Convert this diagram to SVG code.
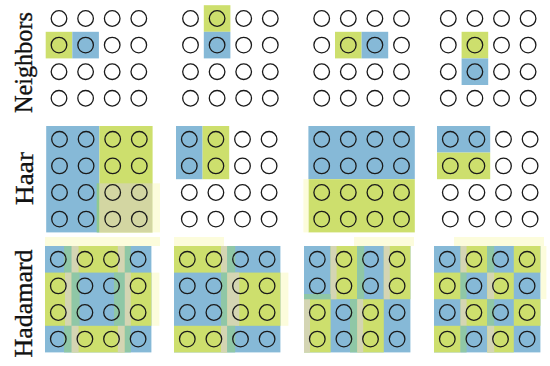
<svg xmlns="http://www.w3.org/2000/svg" xmlns:xlink="http://www.w3.org/1999/xlink" width="550" height="366" viewBox="0 0 550 366">
<style>
.b{fill:#86b9d7}
.g{fill:#cddf6d}
.t{fill:#8fc7a6}
.e{fill:#d4d5b3}
.p{fill:#fcfcdc}
.c{fill:none;stroke:#1a1a1a;stroke-width:1.3}
.lbl{font-family:"Liberation Serif","DejaVu Serif",serif;font-size:26px;fill:#111;stroke:#111;stroke-width:0.35}
</style>
<defs>
<g id="grid">
<circle class="c" cx="13.3" cy="13.3" r="7.8"/><circle class="c" cx="39.9" cy="13.3" r="7.8"/><circle class="c" cx="66.5" cy="13.3" r="7.8"/><circle class="c" cx="93.1" cy="13.3" r="7.8"/>
<circle class="c" cx="13.3" cy="39.9" r="7.8"/><circle class="c" cx="39.9" cy="39.9" r="7.8"/><circle class="c" cx="66.5" cy="39.9" r="7.8"/><circle class="c" cx="93.1" cy="39.9" r="7.8"/>
<circle class="c" cx="13.3" cy="66.5" r="7.8"/><circle class="c" cx="39.9" cy="66.5" r="7.8"/><circle class="c" cx="66.5" cy="66.5" r="7.8"/><circle class="c" cx="93.1" cy="66.5" r="7.8"/>
<circle class="c" cx="13.3" cy="93.1" r="7.8"/><circle class="c" cx="39.9" cy="93.1" r="7.8"/><circle class="c" cx="66.5" cy="93.1" r="7.8"/><circle class="c" cx="93.1" cy="93.1" r="7.8"/>
</g>
</defs>
<rect width="550" height="366" fill="#fff"/>
<g id="labels">
<text class="lbl" transform="translate(32,62.5) rotate(-90)" text-anchor="middle" textLength="101" lengthAdjust="spacingAndGlyphs">Neighbors</text>
<text class="lbl" transform="translate(33,178.5) rotate(-90)" text-anchor="middle" textLength="53" lengthAdjust="spacingAndGlyphs">Haar</text>
<text class="lbl" transform="translate(32,303.5) rotate(-90)" text-anchor="middle" textLength="108" lengthAdjust="spacingAndGlyphs">Hadamard</text>
</g>
<!-- Neighbors -->
<g id="neighbors-1" transform="translate(45.7,5.2)">
<rect class="g" x="0" y="26.6" width="26.6" height="26.6"/><rect class="b" x="26.6" y="26.6" width="26.6" height="26.6"/>
<use xlink:href="#grid"/>
</g>
<g id="neighbors-2" transform="translate(177.2,5.2)">
<rect class="g" x="26.6" y="0" width="26.6" height="26.6"/><rect class="b" x="26.6" y="26.6" width="26.6" height="26.6"/>
<use xlink:href="#grid"/>
</g>
<g id="neighbors-3" transform="translate(308.4,5.2)">
<rect class="g" x="26.6" y="26.6" width="26.6" height="26.6"/><rect class="b" x="53.2" y="26.6" width="26.6" height="26.6"/>
<use xlink:href="#grid"/>
</g>
<g id="neighbors-4" transform="translate(435,5.2)">
<rect class="g" x="26.6" y="26.6" width="26.6" height="26.6"/><rect class="b" x="26.6" y="53.2" width="26.6" height="26.6"/>
<use xlink:href="#grid"/>
</g>
<!-- Haar -->
<g id="haar-1" transform="translate(46.2,126)">
<rect class="b" x="0" y="0" width="53.2" height="106.4"/><rect class="g" x="53.2" y="0" width="53.2" height="106.4"/>
<rect x="50.5" y="57.3" width="2.7" height="49.1" fill="#8fc98f"/>
<rect x="53.2" y="57.3" width="53.2" height="49.1" fill="#d3d6a2"/>
<rect x="106.4" y="57.3" width="7.4" height="49.1" class="p"/>
<use xlink:href="#grid"/>
</g>
<g id="haar-2" transform="translate(176,126)">
<rect class="b" x="0" y="0" width="26.6" height="53.2"/><rect class="g" x="26.6" y="0" width="26.6" height="53.2"/>
<use xlink:href="#grid"/>
</g>
<g id="haar-3" transform="translate(308.4,126)">
<rect class="b" x="0" y="0" width="106.4" height="53.2"/><rect class="g" x="0" y="53.2" width="106.4" height="53.2"/>
<rect x="-5" y="53.2" width="5" height="53.2" class="p"/>
<use xlink:href="#grid"/>
</g>
<g id="haar-4" transform="translate(437,126)">
<rect class="b" x="0" y="0" width="53.2" height="26.6"/><rect class="g" x="0" y="26.6" width="53.2" height="26.6"/>
<use xlink:href="#grid"/>
</g>
<!-- Hadamard -->
<g id="hadamard-1" transform="translate(45,246)">
<rect class="p" x="0" y="-9" width="115" height="9"/><rect class="p" x="106.4" y="26.6" width="8" height="53.2"/>
<rect class="b" x="0" y="0" width="106.4" height="106.4"/>
<rect class="g" x="26.6" y="0" width="53.2" height="26.6"/><rect class="g" x="0" y="26.6" width="26.6" height="53.2"/><rect class="g" x="79.8" y="26.6" width="26.6" height="53.2"/><rect class="g" x="26.6" y="79.8" width="53.2" height="26.6"/>
<rect class="t" x="19" y="0" width="7.6" height="26.6"/><rect class="e" x="26.6" y="0" width="7" height="26.6"/><rect class="e" x="72.8" y="0" width="7" height="26.6"/><rect class="t" x="79.8" y="0" width="6" height="26.6"/>
<rect class="e" x="20" y="26.6" width="6.6" height="53.2"/><rect class="t" x="26.6" y="26.6" width="8" height="53.2"/><rect class="t" x="69" y="26.6" width="10.8" height="53.2"/><rect class="e" x="79.8" y="26.6" width="6" height="53.2"/>
<rect class="t" x="19" y="79.8" width="7.6" height="26.6"/><rect class="e" x="26.6" y="79.8" width="7" height="26.6"/><rect class="e" x="72.8" y="79.8" width="7" height="26.6"/><rect class="t" x="79.8" y="79.8" width="6" height="26.6"/>
<use xlink:href="#grid"/>
</g>
<g id="hadamard-2" transform="translate(174,246)">
<rect class="p" x="0" y="-9" width="50" height="9"/><rect class="p" x="106.4" y="26.6" width="8" height="53.2"/>
<rect class="b" x="0" y="0" width="106.4" height="106.4"/>
<rect class="g" x="0" y="0" width="53.2" height="26.6"/><rect class="g" x="53.2" y="26.6" width="53.2" height="53.2"/><rect class="g" x="0" y="79.8" width="53.2" height="26.6"/>
<rect class="e" x="47" y="0" width="6.2" height="26.6"/><rect class="t" x="53.2" y="0" width="8" height="26.6"/>
<rect class="t" x="47" y="26.6" width="6.2" height="53.2"/><rect class="e" x="53.2" y="26.6" width="12" height="53.2"/>
<rect class="e" x="47" y="79.8" width="6.2" height="26.6"/><rect class="t" x="53.2" y="79.8" width="8" height="26.6"/>
<use xlink:href="#grid"/>
</g>
<g id="hadamard-3" transform="translate(304,246)">
<rect class="p" x="50" y="-9" width="60" height="9"/>
<rect class="b" x="0" y="0" width="106.4" height="106.4"/>
<rect class="g" x="26.6" y="0" width="26.6" height="53.2"/><rect class="g" x="79.8" y="0" width="26.6" height="53.2"/><rect class="g" x="0" y="53.2" width="26.6" height="53.2"/><rect class="g" x="53.2" y="53.2" width="26.6" height="53.2"/>
<rect class="e" x="26.6" y="0" width="6" height="53.2"/><rect class="t" x="53.2" y="0" width="7" height="53.2"/><rect class="e" x="79.8" y="0" width="6" height="53.2"/>
<rect class="e" x="0" y="53.2" width="6" height="53.2"/><rect class="t" x="46" y="53.2" width="7.2" height="53.2"/><rect class="e" x="53.2" y="53.2" width="6" height="53.2"/>
<rect class="t" x="0" y="48" width="26.6" height="5.2"/>
<use xlink:href="#grid"/>
</g>
<g id="hadamard-4" transform="translate(434,246)">
<rect class="p" x="20" y="-9" width="90" height="9"/><rect class="p" x="106.4" y="0" width="6" height="53.2"/>
<rect class="b" x="0" y="0" width="106.4" height="106.4"/>
<rect class="g" x="26.6" y="0" width="26.6" height="26.6"/><rect class="g" x="79.8" y="0" width="26.6" height="26.6"/>
<rect class="g" x="0" y="26.6" width="26.6" height="26.6"/><rect class="g" x="53.2" y="26.6" width="26.6" height="26.6"/>
<rect class="g" x="26.6" y="53.2" width="26.6" height="26.6"/><rect class="g" x="79.8" y="53.2" width="26.6" height="26.6"/>
<rect class="g" x="0" y="79.8" width="26.6" height="26.6"/><rect class="g" x="53.2" y="79.8" width="26.6" height="26.6"/>
<rect class="e" x="26.6" y="0" width="6" height="26.6"/><rect class="t" x="53.2" y="0" width="7" height="26.6"/>
<rect class="t" x="26.6" y="26.6" width="6" height="26.6"/><rect class="e" x="53.2" y="26.6" width="7" height="26.6"/>
<rect class="e" x="26.6" y="53.2" width="6" height="26.6"/><rect class="t" x="53.2" y="53.2" width="7" height="26.6"/>
<rect class="t" x="26.6" y="79.8" width="6" height="26.6"/><rect class="e" x="53.2" y="79.8" width="7" height="26.6"/>
<use xlink:href="#grid"/>
</g>
</svg>
